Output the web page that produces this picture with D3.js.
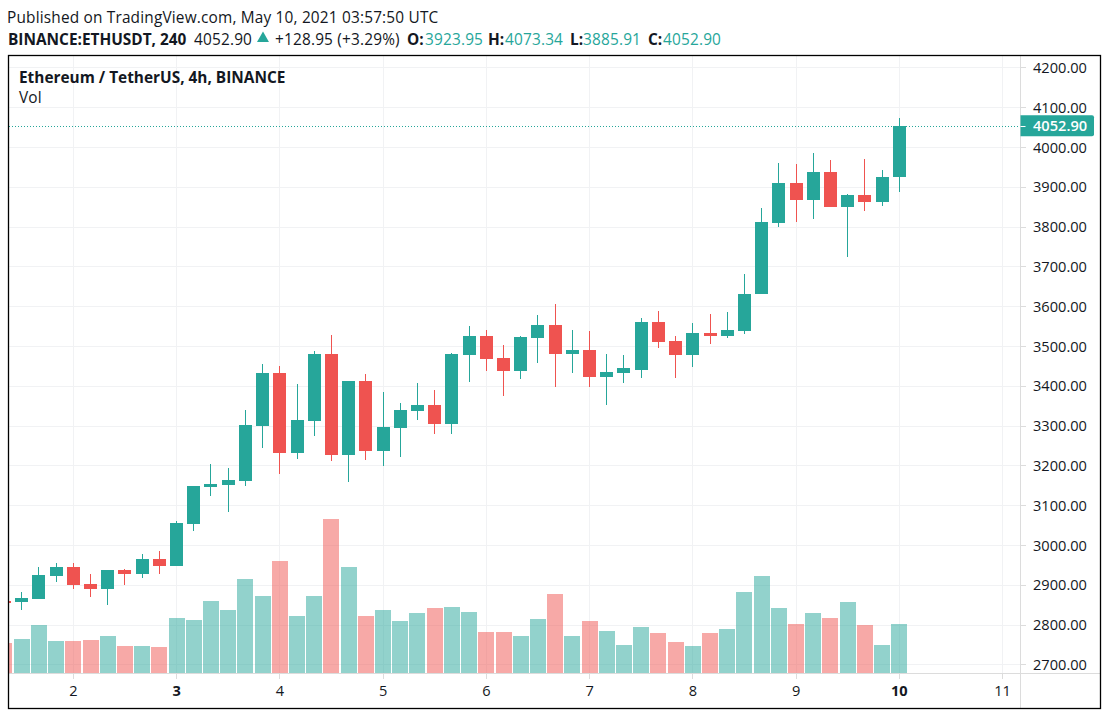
<!DOCTYPE html>
<html><head><meta charset="utf-8">
<script src="https://cdn.jsdelivr.net/npm/d3@7"></script>
<style>
html,body{margin:0;padding:0;background:#fff;overflow:hidden}
text{font-family:"Open Sans","Noto Sans",sans-serif;fill:#131722}
.hdr{font-size:15.4px;letter-spacing:.18px}
.hdr.b{font-weight:700;letter-spacing:0}
</style></head><body><svg id="c" width="1109" height="717"></svg>
<script>
const firstBar = -4;
const opens  = [2859,2856.5,2864,2922,2944,2902,2889,2937,2927,2964.5,2947,3052,3145,3150.4,3160.5,3299,3432,3231,3311.3,3479.6,3226,3411.8,3236,3293.7,3336.4,3351.5,3303.8,3477,3525,3469.7,3437,3520,3552.6,3479.7,3489.8,3422,3432,3439.5,3560,3512.4,3477,3532.5,3525,3537.5,3630.4,3809,3909.3,3866.6,3937,3849,3879,3861.6,3923.95];
const closes = [2854,2866.5,2924,2944,2899,2889,2937,2927,2964.5,2947,3055,3148,3153,3163,3301,3432,3231,3314,3479.6,3226,3411.8,3236,3296,3339,3351.5,3303.8,3479.6,3525,3467,3437,3522.4,3552.6,3479.7,3489.8,3422,3434.5,3444.5,3560,3510,3477,3532.5,3525,3540,3630,3811,3909.3,3866.6,3937,3849,3879,3861.6,3924.4,4052.9];
const highs  = [2862,2881.6,2944,2954.5,2954.5,2927,2937,2939,2977,2984.6,3060,3148,3203,3193,3339,3454.5,3449.5,3404,3487,3527.4,3411.8,3429.4,3384,3356.5,3406.8,3389,3482,3550,3540,3502.3,3525,3577.7,3605.3,3540,3537.5,3479.7,3477,3570,3587.7,3525,3557.6,3580,3585,3680.7,3846.5,3959.6,3957,3984.7,3967,3881.7,3969.6,3942,4073.34];
const lows   = [2850,2836.4,2864,2907,2889,2869,2849,2899,2917,2927,2947,3035,3123,3082.6,3148,3243.5,3178,3216,3273.6,3211,3158,3213.3,3198,3221,3313.8,3278.6,3278.6,3409,3437,3374,3417,3457,3396.8,3432,3396.8,3351.6,3407,3419.4,3494.8,3419.4,3447,3505,3520,3530,3630,3798.8,3811,3819,3849,3723.4,3839,3851.6,3885.91];
const volumes= [91,103,145,97,97,100,112,82,82,79,166,160,217,190,283,232,337,172,232,463,319,172,190,157,181,196,199,184,124,124,112,163,238,112,157,127,85,139,121,94,82,121,133,244,292,196,148,181,166,214,145,85,148];
const dayLabels = [2,3,4,5,6,7,8,9,10,11];
const boldDays = [3,10];
const priceTicks = [2700,2800,2900,3000,3100,3200,3300,3400,3500,3600,3700,3800,3900,4000,4100,4200];
const lastPrice = 4052.90;
const headerLine1 = "Published on TradingView.com, May 10, 2021 03:57:50 UTC";
const headerParts = [
 ["BINANCE:ETHUSDT, 240",8,1,0],["4052.90",194,0,0],["+128.95 (+3.29%)",275,0,0],
 ["O:",407,1,0],["3923.95",425,0,1],["H:",488,1,0],["4073.34",505,0,1],
 ["L:",570,1,0],["3885.91",583,0,1],["C:",648,1,0],["4052.90",663,0,1]];

const UP="#26a69a", DOWN="#ef5350", GRID="#f1f2f4", AXIS="#dcdcdc";
const frame={l:8.5,t:55.5,r:1100.5,b:708.5}, axisX=1020.5, axisY=673.5;
const svg=d3.select("#c");
const x=d3.scaleLinear().domain([0,48]).range([73.3,899.3]);
const y=d3.scaleLinear().domain([2700,4200]).range([664.3,67.3]);
const v=d3.scaleLinear().domain([0,463]).range([673,519]);
const bars=opens.map((o,i)=>({i:i+firstBar,o,c:closes[i],h:highs[i],l:lows[i],vol:volumes[i],up:closes[i]>=o}));

svg.append("defs").append("clipPath").attr("id","plot").append("rect")
 .attr("x",frame.l).attr("y",frame.t).attr("width",axisX-frame.l).attr("height",axisY-frame.t);

// header
svg.append("text").attr("class","hdr").attr("x",7).attr("y",22.5).text(headerLine1);
svg.selectAll(".hp").data(headerParts).join("text").attr("class",d=>d[2]?"hp hdr b":"hp hdr")
 .attr("x",d=>d[1]).attr("y",44.5)
 .style("fill",d=>d[3]?UP:"#131722").text(d=>d[0]);
svg.append("path").attr("d",d3.symbol(d3.symbolTriangle,62)()).attr("transform","translate(263,38.5)").attr("fill",UP);

// grid
const plot=svg.append("g").attr("clip-path","url(#plot)").attr("shape-rendering","crispEdges");
const dayIdx=dayLabels.map(d=>(d-2)*6);
plot.selectAll(".gy").data(priceTicks).join("line").attr("x1",frame.l).attr("x2",axisX)
 .attr("y1",d=>Math.round(y(d))+.5).attr("y2",d=>Math.round(y(d))+.5).attr("stroke",GRID);
plot.selectAll(".gx").data(dayIdx).join("line").attr("y1",frame.t).attr("y2",axisY)
 .attr("x1",d=>Math.floor(x(d))+.5).attr("x2",d=>Math.floor(x(d))+.5).attr("stroke",GRID);

// volume
plot.selectAll(".vol").data(bars).join("rect").attr("class","vol")
 .attr("x",d=>Math.round(x(d.i)-8)).attr("width",16)
 .attr("y",d=>v(d.vol)).attr("height",d=>v(0)-v(d.vol))
 .attr("fill",d=>d.up?UP:DOWN).attr("fill-opacity",.5);

// last price line
plot.append("line").attr("x1",frame.l).attr("x2",axisX).attr("y1",Math.round(y(lastPrice))+.5).attr("y2",Math.round(y(lastPrice))+.5)
 .attr("stroke",UP).attr("stroke-dasharray","1 2");

// candles
plot.selectAll(".wick").data(bars).join("rect").attr("class","wick")
 .attr("x",d=>Math.floor(x(d.i))).attr("width",1)
 .attr("y",d=>y(d.h)).attr("height",d=>y(d.l)-y(d.h)).attr("fill",d=>d.up?UP:DOWN);
plot.selectAll(".body").data(bars).join("rect").attr("class","body")
 .attr("x",d=>Math.floor(x(d.i))-6).attr("width",13)
 .attr("y",d=>y(Math.max(d.o,d.c))).attr("height",d=>Math.max(1,Math.abs(y(d.o)-y(d.c))))
 .attr("fill",d=>d.up?UP:DOWN);

// axes
const yAxis=d3.axisRight(y).tickValues(priceTicks).tickFormat(d3.format(".2f")).tickSize(5).tickPadding(7.5);
const gy=svg.append("g").attr("transform",`translate(${axisX},0)`).call(yAxis);
const xAxis=d3.axisBottom(x).offset(0).tickValues(dayIdx).tickFormat((d,i)=>dayLabels[i]).tickSize(5).tickPadding(7);
const gx=svg.append("g").attr("transform",`translate(0,${axisY})`).call(xAxis);
[gy,gx].forEach(g=>{g.select(".domain").remove();g.selectAll("line").attr("stroke",AXIS).attr("shape-rendering","crispEdges");
 g.selectAll("text").attr("font-size",14.6).style("font-family",'"Open Sans"').style("fill","#131722");});
gy.selectAll("text").attr("transform","translate(0,0.5)");
gx.selectAll("text").attr("font-weight",(d,i)=>boldDays.includes(dayLabels[i])?700:400);
svg.append("line").attr("x1",axisX).attr("x2",axisX).attr("y1",frame.t).attr("y2",frame.b).attr("stroke",AXIS).attr("shape-rendering","crispEdges");
svg.append("line").attr("x1",frame.l).attr("x2",frame.r).attr("y1",axisY).attr("y2",axisY).attr("stroke",AXIS).attr("shape-rendering","crispEdges");

// last price label
const ly=y(lastPrice);
svg.append("path").attr("d",`M${axisX} ${ly-10.5}H1092a2 2 0 0 1 2 2V${ly+8.5}a2 2 0 0 1 -2 2H${axisX}Z`).attr("fill",UP);
svg.append("line").attr("x1",axisX).attr("x2",axisX+5).attr("y1",Math.round(ly)+.5).attr("y2",Math.round(ly)+.5).attr("stroke","#fff");
svg.append("text").attr("x",1033).attr("y",ly+5.5).attr("font-size",14.6).attr("font-weight",600).style("fill","#fff").text(d3.format(".2f")(lastPrice));

// frame & legend
svg.append("rect").attr("x",frame.l).attr("y",frame.t).attr("width",frame.r-frame.l).attr("height",frame.b-frame.t)
 .attr("fill","none").attr("stroke","#000").attr("stroke-width",1.3);
svg.append("text").attr("class","hdr b").attr("x",19).attr("y",82.5).text("Ethereum / TetherUS, 4h, BINANCE");
svg.append("text").attr("class","hdr").attr("x",19).attr("y",103).text("Vol");
</script></body></html>
